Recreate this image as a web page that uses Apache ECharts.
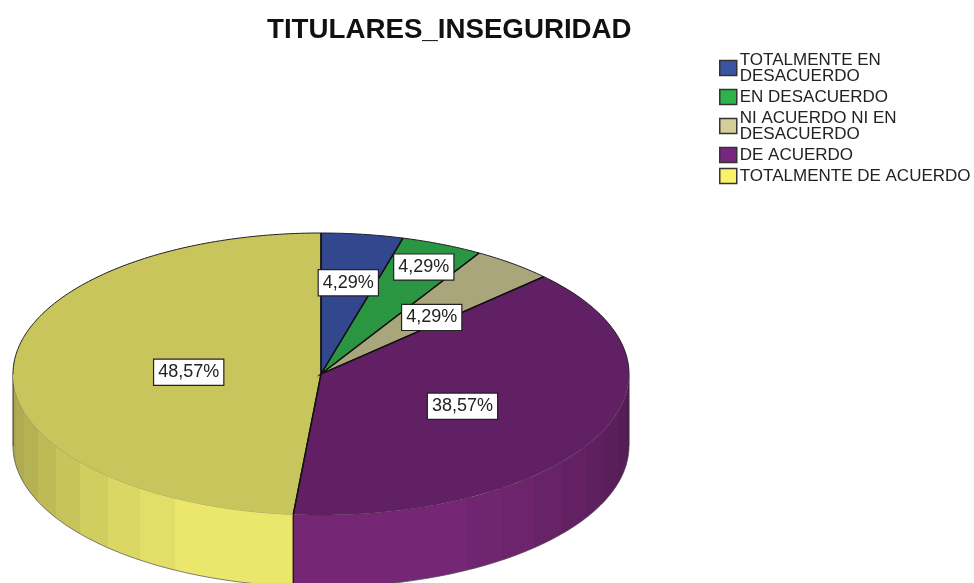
<!DOCTYPE html>
<html>
<head>
<meta charset="utf-8">
<style>
  html, body { margin: 0; padding: 0; background: #fff; }
  #chart { width: 974px; height: 583px; }
</style>
<script src="https://cdn.jsdelivr.net/npm/echarts@6/dist/echarts.min.js"></script>
</head>
<body>
<div id="chart"></div>
<script>
const categories = [
  'TOTALMENTE EN\nDESACUERDO',
  'EN DESACUERDO',
  'NI ACUERDO NI EN\nDESACUERDO',
  'DE ACUERDO',
  'TOTALMENTE DE ACUERDO'
]
const percents = [4.29, 4.29, 4.29, 38.57, 48.57]

const legendColors = ['#3a54a4', '#2db34b', '#d4cf98', '#7a2680', '#fbf267']
const topColors = ['#33478e', '#2a9642', '#a9a67b', '#612063', '#c9c55d']
const wallColors = ['#33478e', '#2a9642', '#a9a67b', '#752775', '#ebe76c']
// how far out along its slice each label box sits, plus a small nudge in px
const labelRadius = [0.66, 0.84, 0.55, 0.51, 0.43]
const labelNudge = [[0, 1], [1, 2], [5, 4], [0, 1], [0, 1]]
// side wall gets darker towards the outer edges
const wallShades = [0.72, 0.74, 0.77, 0.81, 0.85, 0.89, 0.93, 0.96, 1, 1, 1, 1]

const cx = 321, cy = 374, rx = 308, ry = 141, depth = 72
const bandStep = 7.7
const total = percents.reduce((a, b) => a + b, 0)

function point(deg, dy) {
  const t = deg * Math.PI / 180
  return [cx + rx * Math.sin(t), cy - ry * Math.cos(t) + (dy || 0)]
}

function arc(from, to, dy) {
  const pts = []
  const n = Math.max(2, Math.ceil(Math.abs(to - from)))
  for (let i = 0; i <= n; i++) pts.push(point(from + (to - from) * i / n, dy))
  return pts
}

function shade(hex, f) {
  const c = echarts.color.parse(hex)
  return `rgb(${Math.round(c[0] * f)},${Math.round(c[1] * f)},${Math.round(c[2] * f)})`
}

// one wall polygon, the bands are hard steps in a horizontal gradient
function wallPiece(index, from, to) {
  const cuts = [from, to]
  for (let k = 1; k < 12; k++) {
    const a = 90 + k * bandStep, b = 270 - k * bandStep
    if (a > from && a < to && a < 180) cuts.push(a)
    if (b > from && b < to && b > 180) cuts.push(b)
  }
  cuts.sort((a, b) => b - a)
  const x0 = point(to)[0], x1 = point(from)[0]
  const stops = []
  for (let i = 0; i < cuts.length - 1; i++) {
    const m = (cuts[i] + cuts[i + 1]) / 2
    const band = Math.floor((m < 180 ? m - 90 : 270 - m) / bandStep)
    const col = shade(wallColors[index], wallShades[Math.min(band, wallShades.length - 1)])
    stops.push({ offset: (point(cuts[i])[0] - x0) / (x1 - x0), color: col })
    stops.push({ offset: (point(cuts[i + 1])[0] - x0) / (x1 - x0), color: col })
  }
  return {
    type: 'polygon',
    shape: { points: arc(from, to, 0).concat(arc(to, from, depth)) },
    style: { fill: new echarts.graphic.LinearGradient(x0, 0, x1, 0, stops, true) },
    z2: 1
  }
}

function renderSlice(index) {
  return function (params, api) {
    const value = api.value(0)
    const before = percents.slice(0, index).reduce((a, b) => a + b, 0)
    const start = before / total * 360
    const end = (before + value) / total * 360
    const mid = (start + end) / 2
    const children = []

    // wall outline: bottom rim and the dividing edge
    const wallFrom = Math.max(start, 90), wallTo = Math.min(end, 270)
    if (wallTo > wallFrom) {
      children.push(wallPiece(index, wallFrom, wallTo))
      children.push({
        type: 'polyline',
        shape: { points: arc(wallFrom, wallTo, depth) },
        style: { fill: 'none', stroke: '#4a4a4a', lineWidth: 0.7 },
        z2: 2
      })
      children.push({
        type: 'polyline',
        shape: { points: arc(wallFrom, wallTo, 0) },
        style: { fill: 'none', stroke: 'rgba(40,40,20,0.45)', lineWidth: 0.8 },
        z2: 2
      })
      const sides = []
      if (wallFrom === 90) sides.push(90)
      if (wallTo === 270) sides.push(270)
      sides.forEach(a => children.push({
        type: 'line',
        shape: { x1: point(a)[0], y1: point(a)[1], x2: point(a)[0], y2: point(a)[1] + depth },
        style: { stroke: '#333', lineWidth: 1 },
        z2: 2
      }))
      if (start > 90 && start < 270) {
        const p = point(start)
        children.push({
          type: 'line',
          shape: { x1: p[0], y1: p[1], x2: p[0], y2: p[1] + depth },
          style: { stroke: '#111', lineWidth: 1.3 },
          z2: 3
        })
      }
    }

    // top face, straight edges are black, rim is a bit thinner
    children.push({
      type: 'polygon',
      shape: { points: [[cx, cy]].concat(arc(start, end, 0)) },
      style: { fill: topColors[index], stroke: 'none' },
      z2: 4
    })
    children.push({
      type: 'polyline',
      shape: { points: [point(start), [cx, cy], point(end)] },
      style: { fill: 'none', stroke: '#111', lineWidth: 1.3 },
      z2: 6
    })
    if (start < 90 || end > 270) {
      children.push({
        type: 'polyline',
        shape: { points: start < 90 ? arc(start, Math.min(end, 90), 0) : arc(Math.max(start, 270), end, 0) },
        style: { fill: 'none', stroke: '#222', lineWidth: 1 },
        z2: 6
      })
    }

    const lp = point(mid)
    const r = labelRadius[index]
    children.push({
      type: 'text',
      x: cx + (lp[0] - cx) * r + labelNudge[index][0],
      y: cy + (lp[1] - cy) * r + labelNudge[index][1],
      style: {
        text: value.toFixed(2).replace('.', ',') + '%',
        fontFamily: 'Liberation Sans',
        fontSize: 18,
        fill: '#222',
        align: 'center',
        verticalAlign: 'middle',
        backgroundColor: '#fff',
        borderColor: '#222',
        borderWidth: 1.2,
        padding: [4, 4, 3, 4]
      },
      z2: 20
    })
    return { type: 'group', children: children }
  }
}

const chart = echarts.init(document.getElementById('chart'), null, { renderer: 'canvas' })

chart.setOption({
  animation: false,
  backgroundColor: '#fff',
  title: {
    text: 'TITULARES_INSEGURIDAD',
    left: 267,
    top: 16,
    padding: 0,
    textStyle: {
      fontFamily: 'Liberation Sans',
      fontWeight: 'bold',
      fontSize: 27.7,
      color: '#111'
    }
  },
  legend: {
    orient: 'vertical',
    left: 719,
    top: 48,
    padding: 0,
    itemWidth: 17,
    itemHeight: 15,
    itemGap: -3,
    icon: 'rect',
    selectedMode: false,
    data: categories,
    itemStyle: { borderColor: '#333', borderWidth: 1.5 },
    textStyle: {
      fontFamily: 'Liberation Sans',
      fontSize: 17,
      lineHeight: 16,
      color: '#222',
      padding: [8, 0, 0, -2]
    }
  },
  series: categories.map((name, i) => ({
    name: name,
    type: 'custom',
    coordinateSystem: 'none',
    silent: true,
    clip: false,
    itemStyle: { color: legendColors[i] },
    renderItem: renderSlice(i),
    data: [percents[i]]
  }))
})

window.addEventListener('resize', () => chart.resize())
</script>
</body>
</html>
